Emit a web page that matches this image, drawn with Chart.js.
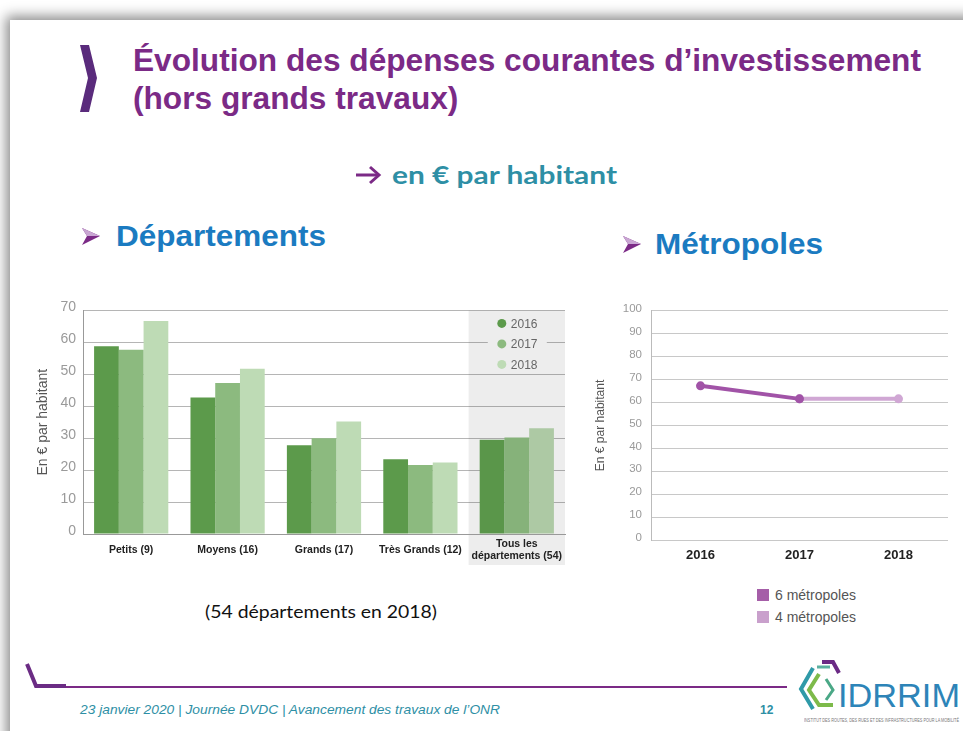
<!DOCTYPE html>
<html>
<head>
<meta charset="utf-8">
<script src="https://cdn.jsdelivr.net/npm/chart.js@4.4.1/dist/chart.umd.min.js"></script>
<style>
  body { margin: 0; width: 963px; height: 731px; overflow: hidden; background: #fff; position: relative; font-family: "Liberation Sans", Arial, sans-serif; }
  #slide { position: absolute; left: 10px; top: 20px; width: 1000px; height: 800px; background: #fff; box-shadow: 0 0 12px 4px rgba(0,0,0,0.45); }
  .t { position: absolute; white-space: nowrap; transform-origin: 0 50%; }
  canvas { position: absolute; }
  #metroLegend { position: absolute; left: 757px; top: 584px; font-size: 14px; color: #555; }
  #metroLegend div { height: 22px; line-height: 22px; display: flex; align-items: center; }
  #metroLegend span.box { display: inline-block; width: 12px; height: 12px; margin-right: 6px; }
</style>
</head>
<body>
<div id="slide"></div>

<!-- title -->
<svg class="t" style="left:0;top:0" width="963" height="731">
  <polygon points="80,45 89,45 97,78 89,112 80,112 88,78" fill="#5a2b7c"/>
  <!-- arrow before "en € par habitant" -->
  <line x1="356" y1="175" x2="378" y2="175" stroke="#7b2a86" stroke-width="3"/>
  <polyline points="370,167 379,175 370,183" fill="none" stroke="#7b2a86" stroke-width="3"/>
  <!-- small arrowheads -->
  <polygon points="82,228 100,236 82,245 87,236" fill="#7b2a86"/>
  <polygon points="82,228 100,236 87,236" fill="#c9a6d3"/>
  <polygon points="623,236 641,244 623,253 628,244" fill="#7b2a86"/>
  <polygon points="623,236 641,244 628,244" fill="#c9a6d3"/>
  <!-- footer marks -->
  <polyline points="27,664 36,686 66,686" fill="none" stroke="#6b2c84" stroke-width="4"/>
  <line x1="66" y1="687" x2="787" y2="687" stroke="#7b2a86" stroke-width="2"/>
  <!-- logo -->
  <polyline points="822,662 833,662 839,673" fill="none" stroke="#6b2a85" stroke-width="4"/>
  <polyline points="813,668 801,689 813,709" fill="none" stroke="#2f9aa8" stroke-width="4"/>
  <polyline points="819,674 809,690 819,705 833,705" fill="none" stroke="#7dba4a" stroke-width="4"/>
  <polyline points="826,679 833,690 826,700" fill="none" stroke="#4aa886" stroke-width="3"/>
  <polyline points="817,667 830,667" fill="none" stroke="#5bb0a0" stroke-width="3"/>
</svg>

<div class="t fit" data-w="788" style="left:133px;top:45px;height:32px;line-height:32px;font-size:31px;font-weight:bold;color:#7b2a86;font-family:'Liberation Sans Narrow','Liberation Sans',sans-serif" id="title1">Évolution des dépenses courantes d’investissement</div>
<div class="t" style="left:133px;top:83px;height:32px;line-height:32px;font-size:31px;font-weight:bold;color:#7b2a86;font-family:'Liberation Sans Narrow','Liberation Sans',sans-serif" id="title2">(hors grands travaux)</div>

<div class="t fit" data-w="225" style="left:392px;top:160px;height:30px;line-height:30px;font-size:24px;font-weight:bold;color:#2e8fa5;font-family:Lato,'Open Sans',sans-serif">en € par habitant</div>

<div class="t fit" data-w="210" style="left:116px;top:219px;height:34px;line-height:34px;font-size:30px;font-weight:bold;color:#1b7bc1">Départements</div>
<div class="t fit" data-w="168" style="left:655px;top:227px;height:34px;line-height:34px;font-size:29px;font-weight:bold;color:#1b7bc1">Métropoles</div>

<div class="t fit" data-w="232" style="left:205px;top:599px;height:24px;line-height:24px;font-size:18px;color:#111;font-family:Lato,'Open Sans',sans-serif">(54 départements en 2018)</div>

<div class="t fit" data-w="420" style="left:80px;top:702px;height:16px;line-height:16px;font-size:13px;font-style:italic;color:#2e8fa5;font-family:'Liberation Sans Narrow','Liberation Sans',sans-serif">23 janvier 2020 | Journée DVDC | Avancement des travaux de l’ONR</div>
<div class="t" style="left:760px;top:702px;height:16px;line-height:16px;font-size:12px;font-weight:bold;color:#2e8fa5">12</div>

<div class="t fit" data-w="122" style="left:838px;top:677px;height:36px;line-height:36px;font-size:34px;color:#2d84b8;font-family:'Liberation Sans Narrow','Liberation Sans',sans-serif">IDRRIM</div>
<div class="t fit" data-w="155" style="left:804px;top:717px;height:6px;line-height:6px;font-size:5px;color:#777">INSTITUT DES ROUTES, DES RUES ET DES INFRASTRUCTURES POUR LA MOBILITÉ</div>

<canvas id="barChart" width="545" height="280" style="left:30px;top:295px;width:545px;height:280px"></canvas>
<canvas id="lineChart" width="370" height="280" style="left:590px;top:295px;width:370px;height:280px"></canvas>
<div id="metroLegend"></div>

<script>
// Départements
const categories = ["Petits (9)", "Moyens (16)", "Grands (17)", "Très Grands (12)", ["Tous les", "départements (54)"]];
const years = ["2016", "2017", "2018"];
const values2016 = [58.8, 42.7, 27.8, 23.4, 29.5];
const values2017 = [57.7, 47.3, 30.0, 21.6, 30.2];
const values2018 = [66.7, 51.7, 35.2, 22.4, 33.1];
const barColors = ["#5c9a4b", "#8cba7f", "#bedbb5"];
const barColorsOnGray = ["#5a964a", "#86b27a", "#adc9a4"];

// Métropoles
const metroYears = ["2016", "2017", "2018"];
const metro6 = [67.3, 61.6, null];
const metro4 = [null, 61.6, 61.6];
const metroLabels = ["6 métropoles", "4 métropoles"];
const metroColors = ["#a153a7", "#d0a7d4"];
const metroLegendColors = ["#a55ea8", "#c9a0cc"];

// squeeze the text to the widths of the slide
document.querySelectorAll(".fit").forEach(el => {
  el.style.display = "inline-block";
  const w = el.getBoundingClientRect().width;
  const s = parseFloat(el.dataset.w) / w;
  el.style.transform = "scaleX(" + s + ")";
  if (el.id === "title1") document.getElementById("title2").style.transform = "scaleX(" + s + ")";
});

Chart.defaults.font.family = '"Liberation Sans", Arial, sans-serif';

const bandPlugin = {
  id: "band",
  beforeDraw(chart) {
    const { ctx, chartArea, scales: { x } } = chart;
    const n = categories.length - 1;
    const half = (x.getPixelForValue(n) - x.getPixelForValue(n - 1)) / 2;
    const left = x.getPixelForValue(n) - half;
    ctx.save();
    ctx.fillStyle = "#ededed";
    ctx.fillRect(left, chartArea.top, chartArea.right - left, chartArea.bottom - chartArea.top + 31);
    ctx.restore();
  },
  afterDraw(chart) {
    const { ctx, chartArea, scales: { x } } = chart;
    const cx = x.getPixelForValue(categories.length - 1);
    ctx.save();
    ctx.fillStyle = "#ededed";
    ctx.fillRect(cx - 29, chartArea.top + 4, 59, 58);
    chart.data.datasets.forEach((ds, i) => {
      const y = chartArea.top + 13 + i * 20.5;
      ctx.fillStyle = barColors[i];
      ctx.beginPath();
      ctx.arc(cx - 15, y, 4.5, 0, Math.PI * 2);
      ctx.fill();
      ctx.fillStyle = "#666";
      ctx.font = '12px "Liberation Sans", Arial, sans-serif';
      ctx.textBaseline = "middle";
      ctx.fillText(ds.label, cx - 6, y + 1);
    });
    ctx.restore();
  }
};

const seriesValues = [values2016, values2017, values2018];

new Chart(document.getElementById("barChart"), {
  type: "bar",
  data: {
    labels: categories,
    datasets: years.map((yr, i) => ({
      label: yr,
      data: seriesValues[i],
      backgroundColor: ctx => ctx.dataIndex === categories.length - 1 ? barColorsOnGray[i] : barColors[i],
      borderWidth: 0
    }))
  },
  options: {
    responsive: false,
    animation: false,
    layout: { padding: { top: 15, right: 10, left: 0, bottom: 0 } },
    datasets: { bar: { categoryPercentage: 0.77, barPercentage: 1.0 } },
    plugins: { legend: { display: false }, tooltip: { enabled: false } },
    scales: {
      x: {
        grid: { display: false, drawTicks: false },
        border: { display: true, color: "#999" },
        ticks: {
          color: "#222",
          font: { family: '"Liberation Sans Narrow", "Liberation Sans", sans-serif', size: 10.5, weight: "bold" },
          padding: 10,
          crossAlign: "center",
          maxRotation: 0,
          autoSkip: false
        },
        afterFit(s) { s.height = 41; }
      },
      y: {
        min: 0,
        max: 70,
        z: 1,
        ticks: { stepSize: 10, color: "#9a9a9a", font: { size: 14 }, padding: 7, labelOffset: -3 },
        grid: { color: "rgba(70,70,70,0.4)", drawTicks: false },
        border: { display: true, color: "#999" },
        title: { display: true, text: "En € par habitant", color: "#555", font: { size: 14 }, padding: { top: 5, bottom: 0 } },
        afterFit(s) { s.width = 53; }
      }
    }
  },
  plugins: [bandPlugin]
});

const metroData = [metro6, metro4];

new Chart(document.getElementById("lineChart"), {
  type: "line",
  data: {
    labels: metroYears,
    datasets: metroLabels.map((lab, i) => ({
      label: lab,
      data: metroData[i],
      borderColor: metroColors[i],
      backgroundColor: metroColors[i],
      borderWidth: 4,
      pointRadius: 4.5,
      pointBorderWidth: 0,
      spanGaps: false
    }))
  },
  options: {
    responsive: false,
    animation: false,
    layout: { padding: { top: 13, right: 12, left: 0, bottom: 0 } },
    plugins: { legend: { display: false }, tooltip: { enabled: false } },
    scales: {
      x: {
        offset: true,
        grid: { display: false, drawTicks: false },
        border: { display: false },
        ticks: { color: "#222", font: { size: 13, weight: "bold" }, padding: 8 },
        afterFit(s) { s.height = 35; }
      },
      y: {
        min: 0,
        max: 100,
        ticks: { stepSize: 10, color: "#9a9a9a", font: { size: 11.5 }, padding: 9, labelOffset: -2 },
        grid: { color: "#c8c8c8", drawTicks: false },
        border: { display: true, color: "#bbb" },
        title: { display: true, text: "En € par habitant", color: "#555", font: { size: 12 }, padding: { top: 3, bottom: 0 } },
        afterFit(s) { s.width = 61; }
      }
    }
  }
});

// legend of the métropoles chart
const legendBox = document.getElementById("metroLegend");
metroLabels.forEach((lab, i) => {
  const row = document.createElement("div");
  row.innerHTML = '<span class="box" style="background:' + metroLegendColors[i] + '"></span>' + lab;
  legendBox.appendChild(row);
});
</script>
</body>
</html>
